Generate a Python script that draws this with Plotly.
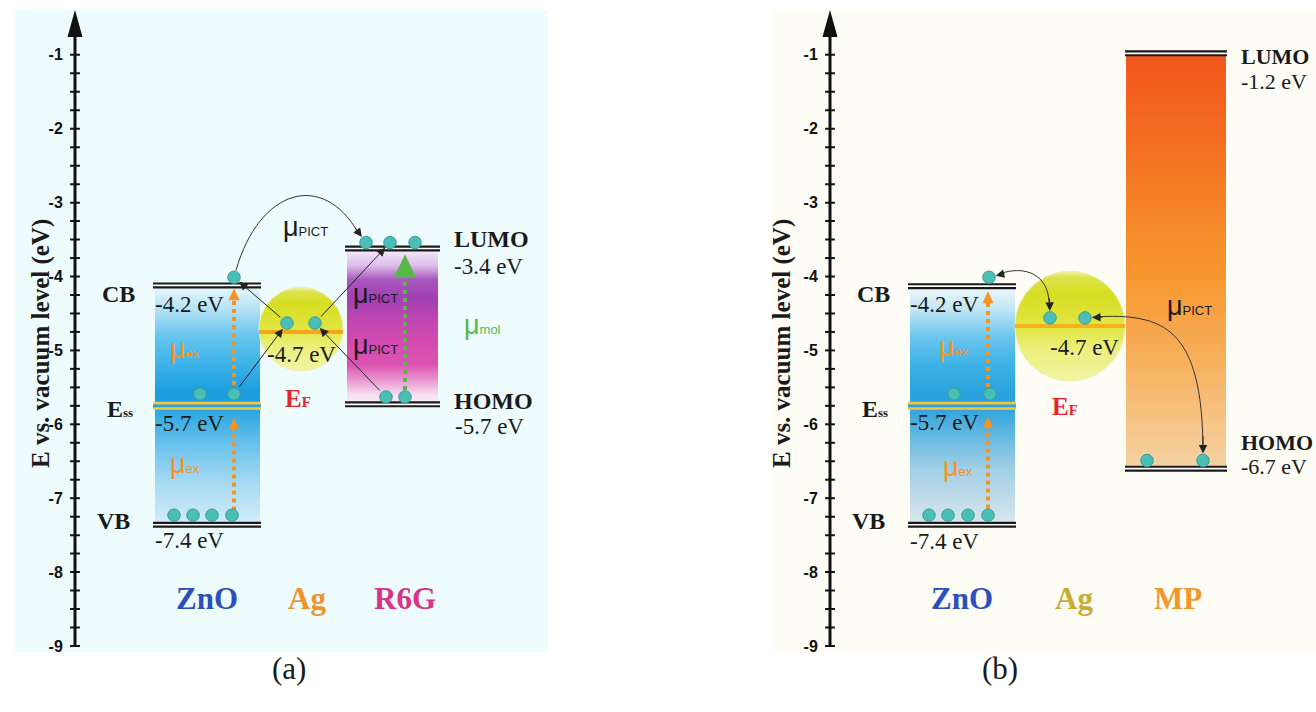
import math
import plotly.graph_objects as go

W, H = 1316, 712
PPE = 74.1            # pixels per eV on the drawn energy axis
TOP_PX, BOT_PX = 10, 654


def ev(py):
    """vertical pixel position -> energy (eV) on the panel axis"""
    return -1 - (py - 55) / PPE


SERIF = "Liberation Serif, Times New Roman, serif"
SANS = "Liberation Sans, Arial, sans-serif"

# ---------------- data ----------------
TICKS = [-1, -2, -3, -4, -5, -6, -7, -8, -9]
TICK_TEXT = ["-1", "-2", "-3", "-4", "-5", "-6", "-7", "-8", "-9"]
MINOR_TICKS = [-9 + 0.25 * i for i in range(33)]

# panel (a): ZnO / Ag / R6G   (drawn positions on the energy axis)
ZNO_A = [-4.12, -5.75, -7.36]            # CB, Ess, VB
ZNO_LABELS = ["-4.2 eV", "-5.7 eV", "-7.4 eV"]
AG_A = -4.75
AG_LABEL = "-4.7 eV"
R6G = [-3.62, -5.73]                     # LUMO, HOMO
R6G_LABELS = ["-3.4 eV", "-5.7 eV"]

# panel (b): ZnO / Ag / MP
ZNO_B = [-4.13, -5.75, -7.36]
AG_B = -4.67
MP = [-0.98, -6.60]                      # LUMO, HOMO
MP_LABELS = ["-1.2 eV", "-6.7 eV"]

# electrons: x = px right of the energy axis, y = energy
EA_X = [159, 125, 159, 99, 118, 137, 157, 212, 240, 291, 315, 340, 311, 330]
EA_Y = [-4.01, -5.59, -5.59, -7.23, -7.23, -7.23, -7.23, -4.63, -4.63,
        -3.54, -3.54, -3.54, -5.63, -5.63]
EB_X = [159, 124, 160, 99, 118, 138, 158, 220, 255, 317, 373]
EB_Y = [-4.01, -5.59, -5.59, -7.23, -7.23, -7.23, -7.23, -4.56, -4.56,
        -6.49, -6.49]

# colour ramps (bottom -> top)
ZNO_A_CS = [[0, "#d3ecf9"], [0.17, "#a8daf3"], [0.33, "#6cc2ec"], [0.45, "#36ace4"],
            [0.5, "#1f9fdf"], [0.55, "#1b9cde"], [0.67, "#3cb2e8"], [0.79, "#68c5ee"],
            [0.9, "#b5e2f6"], [1, "#eaf7fc"]]
ZNO_B_CS = [[0, "#dbe8ed"], [0.23, "#a3cfe6"], [0.39, "#5db6e0"], [0.5, "#2aa0dc"],
            [0.55, "#2aa3de"], [0.67, "#3db1e6"], [0.79, "#6cc6ee"], [0.9, "#bfe5f5"],
            [1, "#f0f8fa"]]
R6G_CS = [[0, "#f7f0f8"], [0.06, "#f6e0f2"], [0.16, "#e993cf"], [0.25, "#dc55b2"],
          [0.39, "#d44bb0"], [0.54, "#c046b2"], [0.68, "#a13fb3"], [0.8, "#a858bf"],
          [0.89, "#dcbde9"], [1, "#f6effa"]]
MP_CS = [[0, "#f5d3a5"], [0.11, "#f6c486"], [0.29, "#f6ac55"], [0.46, "#f6982e"],
         [0.64, "#f58226"], [0.82, "#f46a21"], [1, "#f2561c"]]
AG_CS = [[0, "#f3f3a4"], [0.3, "#ebef7a"], [0.5, "#e0e640"], [0.8, "#d6de22"],
         [0.94, "#dce34a"], [1, "#eef1a8"]]

fig = go.Figure()


def tr(xa, **kw):
    ya = "y" if xa == "x" else "y2"
    kw.setdefault("hoverinfo", "skip")
    kw.setdefault("showlegend", False)
    fig.add_trace(go.Scatter(xaxis=xa, yaxis=ya, **kw))


def box(xa, x0, x1, ybot, ytop, cs):
    tr(xa, x=[x0, x1, x1, x0, x0], y=[ybot, ybot, ytop, ytop, ybot], mode="lines",
       fill="toself", fillgradient=dict(type="vertical", colorscale=cs),
       line=dict(width=0))


def level(xa, x0, x1, y, outer="#1a1a1a", inner="#ffffff", wo=6, wi=1.6):
    tr(xa, x=[x0, x1], y=[y, y], mode="lines", line=dict(color=outer, width=wo))
    tr(xa, x=[x0, x1], y=[y, y], mode="lines", line=dict(color=inner, width=wi))


def circle(xa, cx, cy, r, cs):
    n = 120
    xs = [cx + r * math.cos(2 * math.pi * i / n) for i in range(n + 1)]
    ys = [cy + r / PPE * math.sin(2 * math.pi * i / n) for i in range(n + 1)]
    tr(xa, x=xs, y=ys, mode="lines", fill="toself",
       fillgradient=dict(type="vertical", colorscale=cs),
       line=dict(color="#eef0b0", width=1))


def head(xa, x, ytip, w, h, color):
    yb = ytip - h / PPE
    tr(xa, x=[x - w / 2, x + w / 2, x, x - w / 2], y=[yb, yb, ytip, yb],
       mode="lines", fill="toself", fillcolor=color, line=dict(width=0, color=color))


def dotted(xa, x, y0, y1, color, tip, w, h):
    tr(xa, x=[x, x], y=[y0, y1], mode="lines",
       line=dict(color=color, width=4, dash="4px,4px"))
    head(xa, x, tip, w, h, color)


def electrons(xa, xs, ys):
    tr(xa, x=xs, y=ys, mode="markers",
       marker=dict(size=12.5, color="#4abfb6", line=dict(color="#3a9a95", width=1)))


def axis(xa):
    tip = ev(TOP_PX)
    tr(xa, x=[0, 0], y=[TICKS[-1], tip - 20 / PPE], mode="lines",
       line=dict(color="#111", width=3))
    head(xa, 0, tip, 15, 27, "#111")
    tr(xa, x=[0] * len(MINOR_TICKS), y=MINOR_TICKS, mode="markers",
       marker=dict(symbol="line-ew", size=7, line=dict(color="#111", width=2)))


annotations = []
shapes = []


def txt(xa, x, y, text, size=23, color="#1a1a1a", family=SERIF, xanchor="center"):
    ya = "y" if xa == "x" else "y2"
    annotations.append(dict(xref=xa, yref=ya, x=x, y=y, text=text, showarrow=False,
                            xanchor=xanchor, yanchor="middle", borderpad=0,
                            font=dict(size=size, color=color, family=family)))


def arrow(xa, x, y, ax, ay, so=7, sso=0):
    ya = "y" if xa == "x" else "y2"
    annotations.append(dict(xref=xa, yref=ya, axref=xa, ayref=ya, x=x, y=y, ax=ax, ay=ay,
                            text="", showarrow=True, arrowhead=2, arrowsize=1.7,
                            arrowwidth=1, arrowcolor="#222", standoff=so,
                            startstandoff=sso))


def curve(xa, pts):
    ya = "y" if xa == "x" else "y2"
    (x0, p0), (x1, p1), (x2, p2), (x3, p3) = pts
    path = "M {},{} C {},{} {},{} {},{}".format(x0, ev(p0), x1, ev(p1), x2, ev(p2), x3, ev(p3))
    shapes.append(dict(type="path", xref=xa, yref=ya, path=path,
                       line=dict(color="#333", width=1), layer="above"))


MU = "μ<span style='font-size:13px'>{}</span>"
BIG = 24

# ---------------- panel (a) ----------------
xa = "x"
axis(xa)
box(xa, 80, 185, ZNO_A[2], ZNO_A[0], ZNO_A_CS)
circle(xa, 226, ev(330), 42, AG_CS)
tr(xa, x=[184, 268], y=[AG_A, AG_A], mode="lines", line=dict(color="#f3a61c", width=4))
box(xa, 272, 363, R6G[1], R6G[0], R6G_CS)
level(xa, 78, 186, ZNO_A[0])
level(xa, 78, 186, ZNO_A[1], outer="#f5c441", inner="#2aa2df", wo=8, wi=2.6)
level(xa, 78, 186, ZNO_A[2])
level(xa, 270, 365, R6G[0])
level(xa, 270, 365, R6G[1])
dotted(xa, 159, ev(512), ev(428), "#f7941d", ev(419), 10, 11)
dotted(xa, 159, ev(386), ev(298), "#f7941d", ev(289), 11, 12)
dotted(xa, 330, ev(391), ev(276), "#56b947", ev(255), 22, 23)
electrons(xa, EA_X, EA_Y)

curve(xa, [(161, 271), (185, 188), (248, 172), (283, 233)])
arrow(xa, EA_X[9], EA_Y[9], 279, ev(227))
arrow(xa, EA_X[0], EA_Y[0], EA_X[7], EA_Y[7], so=7, sso=7)
arrow(xa, EA_X[7], EA_Y[7], EA_X[2], EA_Y[2], so=7, sso=7)
arrow(xa, EA_X[10], EA_Y[10], EA_X[8], EA_Y[8], so=7, sso=7)
arrow(xa, EA_X[8], EA_Y[8], EA_X[12], EA_Y[12], so=7, sso=7)

txt(xa, 43, ev(295), "<b>CB</b>", size=BIG)
txt(xa, 45, ev(410), "<b>E<span style='font-size:13px'>ss</span></b>", size=BIG)
txt(xa, 38, ev(522), "<b>VB</b>", size=BIG)
txt(xa, 79, ev(305), ZNO_LABELS[0], xanchor="left")
txt(xa, 79, ev(425), ZNO_LABELS[1], xanchor="left")
txt(xa, 79, ev(542), ZNO_LABELS[2], xanchor="left")
txt(xa, 110, ev(350), MU.format("ex"), size=27, color="#f7941d", family=SANS)
txt(xa, 110, ev(465), MU.format("ex"), size=27, color="#f7941d", family=SANS)
txt(xa, 230, ev(228), MU.format("PICT"), size=27, family=SANS)
txt(xa, 300, ev(295), MU.format("PICT"), size=27, family=SANS)
txt(xa, 300, ev(346), MU.format("PICT"), size=27, family=SANS)
txt(xa, 407, ev(326), MU.format("mol"), size=27, color="#56b947", family=SANS)
txt(xa, 226, ev(355), AG_LABEL)
txt(xa, 223, ev(400), "<b>E<span style='font-size:15px'>F</span></b>", size=25, color="#e3262b")
txt(xa, 378, ev(240), "<b>LUMO</b>", size=BIG, xanchor="left")
txt(xa, 378, ev(267), R6G_LABELS[0], xanchor="left")
txt(xa, 378, ev(402), "<b>HOMO</b>", size=BIG, xanchor="left")
txt(xa, 379, ev(428), R6G_LABELS[1], xanchor="left")
txt(xa, 132, ev(600), "<b>ZnO</b>", size=31, color="#2b50bd")
txt(xa, 232, ev(600), "<b>Ag</b>", size=31, color="#f0922c")
txt(xa, 330, ev(600), "<b>R6G</b>", size=31, color="#d8338a")

# ---------------- panel (b) ----------------
xa = "x2"
axis(xa)
box(xa, 80, 185, ZNO_B[2], ZNO_B[0], ZNO_B_CS)
box(xa, 296, 396, MP[1], MP[0], MP_CS)
circle(xa, 240, ev(327), 55, AG_CS)
tr(xa, x=[185, 295], y=[AG_B, AG_B], mode="lines", line=dict(color="#f3b21c", width=4))
level(xa, 78, 186, ZNO_B[0])
level(xa, 78, 186, ZNO_B[1], outer="#f5c441", inner="#2aa2df", wo=8, wi=2.6)
level(xa, 78, 186, ZNO_B[2])
level(xa, 295, 397, MP[0])
level(xa, 295, 397, MP[1])
dotted(xa, 158, ev(510), ev(427), "#f7941d", ev(418), 10, 11)
dotted(xa, 158, ev(388), ev(302), "#f7941d", ev(292), 11, 12)
electrons(xa, EB_X, EB_Y)

curve(xa, [(168, 275), (196, 265), (218, 276), (219, 303)])
arrow(xa, EB_X[0], EB_Y[0], 176, ev(274))
arrow(xa, EB_X[7], EB_Y[7], 219.5, ev(298))
curve(xa, [(263, 318), (335, 313), (372, 330), (373, 450)])
arrow(xa, EB_X[8], EB_Y[8], 274, ev(318))
arrow(xa, EB_X[10], EB_Y[10], 373, ev(436))

txt(xa, 43, ev(295), "<b>CB</b>", size=BIG)
txt(xa, 45, ev(410), "<b>E<span style='font-size:13px'>ss</span></b>", size=BIG)
txt(xa, 38, ev(522), "<b>VB</b>", size=BIG)
txt(xa, 79, ev(305), ZNO_LABELS[0], xanchor="left")
txt(xa, 79, ev(424), ZNO_LABELS[1], xanchor="left")
txt(xa, 79, ev(543), ZNO_LABELS[2], xanchor="left")
txt(xa, 124, ev(348), MU.format("ex"), size=27, color="#f7941d", family=SANS)
txt(xa, 128, ev(468), MU.format("ex"), size=27, color="#f7941d", family=SANS)
txt(xa, 359, ev(307), MU.format("PICT"), size=27, family=SANS)
txt(xa, 254, ev(348), AG_LABEL)
txt(xa, 235, ev(408), "<b>E<span style='font-size:15px'>F</span></b>", size=25, color="#e3262b")
txt(xa, 410, ev(57), "<b>LUMO</b>", size=22, xanchor="left")
txt(xa, 410, ev(82), MP_LABELS[0], size=22, xanchor="left")
txt(xa, 410, ev(444), "<b>HOMO</b>", size=22, xanchor="left")
txt(xa, 410, ev(468), MP_LABELS[1], size=22, xanchor="left")
txt(xa, 132, ev(600), "<b>ZnO</b>", size=31, color="#2b50bd")
txt(xa, 244, ev(600), "<b>Ag</b>", size=31, color="#c9ad2e")
txt(xa, 348, ev(600), "<b>MP</b>", size=31, color="#f5962a")

# axis titles and panel captions
for px in (25, 782):
    annotations.append(dict(xref="paper", yref="paper", x=px / W, y=1 - 345 / H,
                            text="<b>E vs. vacuum level (eV)</b>", textangle=-90,
                            showarrow=False, font=dict(size=25, family=SERIF, color="#1a1a1a")))
annotations.append(dict(xref="paper", yref="paper", x=270 / W, y=1 - 690 / H, text="(a)",
                        showarrow=False, font=dict(size=31, family=SERIF, color="#1a1a1a")))
annotations.append(dict(xref="paper", yref="paper", x=1020 / W, y=1 - 690 / H, text="(b)",
                        showarrow=False, font=dict(size=31, family=SERIF, color="#1a1a1a")))

# panel backgrounds
shapes.append(dict(type="rect", xref="paper", yref="paper", x0=15 / W, x1=548 / W,
                   y0=1 - BOT_PX / H, y1=1 - TOP_PX / H, fillcolor="#effcfd",
                   line=dict(width=0), layer="below"))
shapes.append(dict(type="rect", xref="paper", yref="paper", x0=772 / W, x1=1,
                   y0=1 - BOT_PX / H, y1=1 - TOP_PX / H, fillcolor="#fdfcf5",
                   line=dict(width=0), layer="below"))

ydom = [1 - BOT_PX / H, 1 - TOP_PX / H]
yrng = [ev(BOT_PX), ev(TOP_PX)]
yax = dict(domain=ydom, range=yrng, anchor="free", tickvals=TICKS, ticktext=TICK_TEXT,
           ticks="outside", ticklen=9, tickcolor="rgba(0,0,0,0)", showgrid=False,
           zeroline=False, showline=False,
           tickfont=dict(family=SANS, size=16, color="#111", weight="bold"))
fig.update_layout(
    width=W, height=H, autosize=False, margin=dict(l=0, r=0, t=0, b=0),
    paper_bgcolor="white", plot_bgcolor="rgba(0,0,0,0)", showlegend=False,
    xaxis=dict(domain=[15 / W, 548 / W], range=[-60, 473], visible=False),
    xaxis2=dict(domain=[772 / W, 1], range=[-58, 486], visible=False),
    yaxis=dict(yax, position=75 / W),
    yaxis2=dict(yax, position=830 / W),
    annotations=annotations, shapes=shapes,
)
fig.write_html("out.html")
